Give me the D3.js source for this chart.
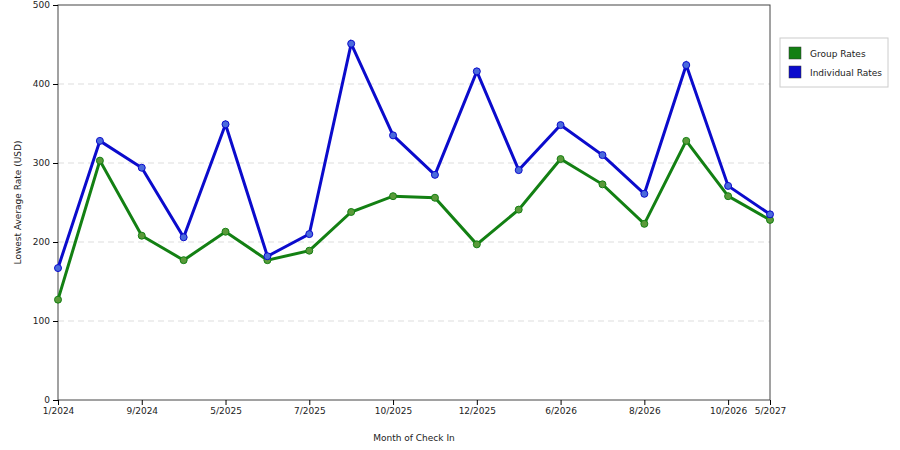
<!DOCTYPE html><html><head><script src="https://cdn.jsdelivr.net/npm/d3@7"></script>
<style>body{margin:0;background:#fff}text{font-family:"DejaVu Sans",sans-serif;font-size:9px;fill:#222}</style></head><body><svg id="c" width="900" height="450"></svg>
<script>
const categories=["1/2024","c2","9/2024","c4","5/2025","c6","7/2025","c8","10/2025","c10","12/2025","c12","6/2026","c14","8/2026","c16","10/2026","5/2027"];
const tickLabels=["1/2024","9/2024","5/2025","7/2025","10/2025","12/2025","6/2026","8/2026","10/2026","5/2027"];
const groupRates=[127,303,208,177,213,177,189,238,258,256,197,241,305,273,223,328,258,228];
const individualRates=[167,328,294,206,349,182,210,451,335,285,416,291,348,310,261,424,271,235];
const yTicks=[0,100,200,300,400,500];
const svg=d3.select("#c");
const L=58,R=770,T=5,B=400;
const x=d3.scalePoint().domain(categories).range([L,R]);
const y=d3.scaleLinear().domain([0,500]).range([B,T]);
svg.append("g").selectAll("line").data(yTicks.slice(1,5)).join("line").attr("x1",L).attr("x2",R).attr("y1",y).attr("y2",y).attr("stroke","#ddd").attr("stroke-dasharray","6,4");
svg.append("rect").attr("x",L).attr("y",T).attr("width",R-L).attr("height",B-T).attr("fill","none").attr("stroke","#444");
svg.append("g").attr("transform",`translate(${L},0)`).call(d3.axisLeft(y).tickValues(yTicks).tickSize(5)).call(g=>g.select(".domain").remove()).selectAll("text").style("font-size","9px");
svg.append("g").attr("transform",`translate(0,${B})`).call(d3.axisBottom(x).tickValues(tickLabels).tickSize(5)).call(g=>g.select(".domain").remove()).selectAll("text").style("font-size","9px");
svg.append("text").attr("x",(L+R)/2).attr("y",441).attr("text-anchor","middle").text("Month of Check In");
svg.append("text").attr("transform",`translate(21,${(T+B)/2}) rotate(-90)`).attr("text-anchor","middle").text("Lowest Average Rate (USD)");
const series=[{v:groupRates,c:"#138013",f:"#5a9a3a"},{v:individualRates,c:"#0b0bcc",f:"#4a6adc"}];
const line=d3.line().x((d,i)=>x(categories[i])).y(d=>y(d));
series.forEach(s=>{
svg.append("path").attr("d",line(s.v)).attr("fill","none").attr("stroke",s.c).attr("stroke-width",3);
svg.append("g").selectAll("circle").data(s.v).join("circle").attr("cx",(d,i)=>x(categories[i])).attr("cy",y).attr("r",3.5).attr("fill",s.f).attr("stroke",s.c).attr("stroke-width",1);
});
const lg=svg.append("g");
lg.append("rect").attr("x",780).attr("y",38).attr("width",108).attr("height",49).attr("fill","#fff").attr("stroke","#ccc");
[["Group Rates","#138013"],["Individual Rates","#0b0bcc"]].forEach((d,i)=>{
lg.append("rect").attr("x",789).attr("y",47+i*19).attr("width",12).attr("height",12).attr("fill",d[1]).attr("stroke","#333").attr("stroke-width",0.5);
lg.append("text").attr("x",810).attr("y",57+i*19).text(d[0]);
});
</script></body></html>
